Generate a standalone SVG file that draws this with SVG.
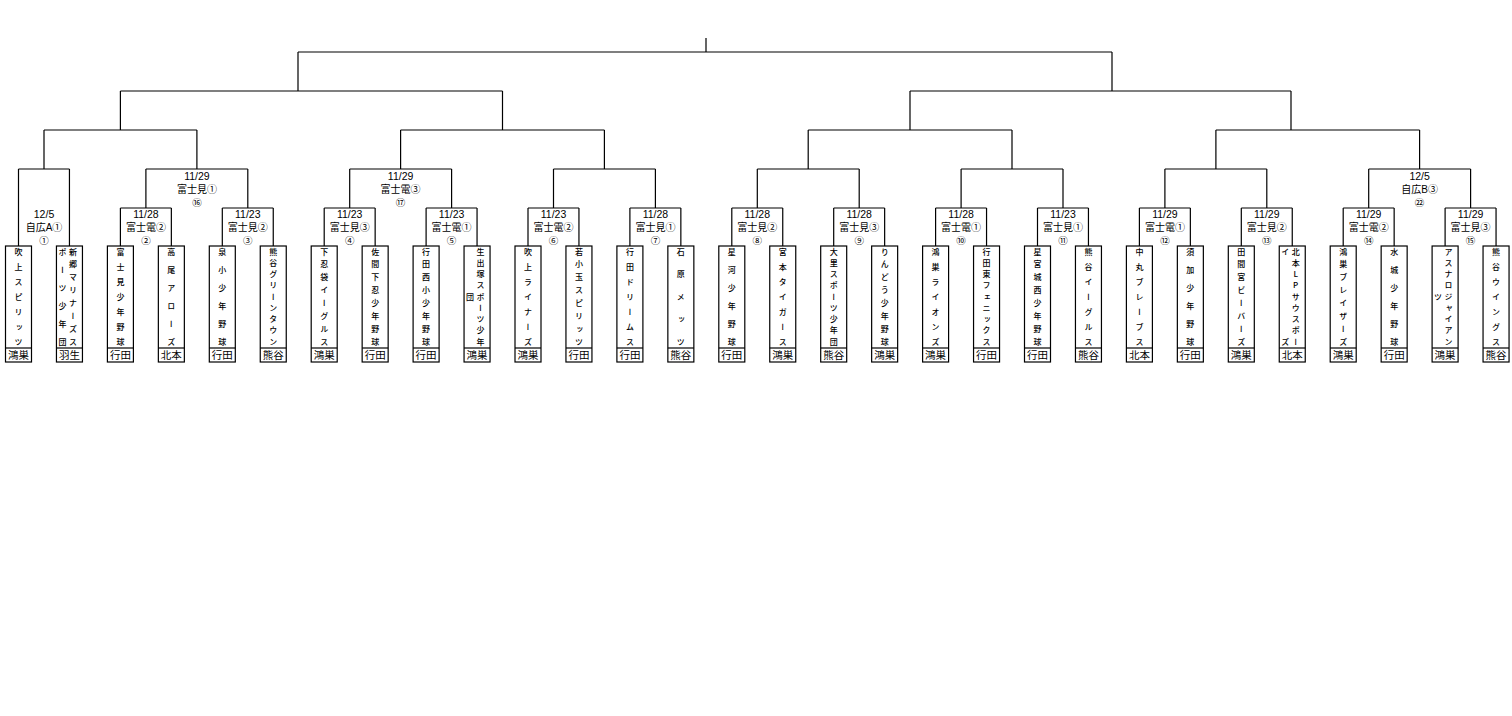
<svg xmlns="http://www.w3.org/2000/svg" width="1512" height="716" viewBox="0 0 1512 716">
<style>
text{font-family:"Liberation Sans","Noto Sans CJK JP",sans-serif;fill:#000}
.d{font-size:10.5px;text-anchor:middle}
.p{font-size:10px;text-anchor:middle}
.n{font-family:"Noto Sans CJK JP",sans-serif;font-size:9.5px;text-anchor:middle}
.r{font-size:10.5px;text-anchor:middle}
.v{font-family:"Noto Sans CJK JP",sans-serif;font-size:8px;font-weight:500;writing-mode:vertical-rl;text-orientation:upright;text-anchor:middle;transform:translateY(1.5px)}
.box{fill:#fff;stroke:#000;stroke-width:1.2}
.ln{fill:none;stroke:#000;stroke-width:1.2}
</style>
<rect width="1512" height="716" fill="#fff"/>
<g id="connectors" class="ln">
<path d="M706 38V52M298 52H1112M298 52V91M1112 52V91"/>
<path d="M120.4 91H502.5M910 91H1291M120.4 91V130M502.5 91V130M910 91V130M1291 91V130"/>
<path d="M44 130H196.9M400.6 130H604.4M808.2 130H1012M1215.9 130H1419.6M44 130V169M196.9 130V169M400.6 130V169M604.4 130V169M808.2 130V169M1012 130V169M1215.9 130V169M1419.6 130V169"/>
<path d="M18.5 169H69.45M145.9 169H247.8M349.7 169H451.6M553.5 169H655.4M757.3 169H859.2M961.1 169H1063M1164.9 169H1266.8M1368.7 169H1470.6"/>
<path d="M18.5 169V246M69.45 169V246M145.9 169V208M247.8 169V208M349.7 169V208M451.6 169V208M553.5 169V208M655.4 169V208M757.3 169V208M859.2 169V208M961.1 169V208M1063 169V208M1164.9 169V208M1266.8 169V208M1368.7 169V208M1470.6 169V208"/>
<path d="M120.4 208H171.35M222.3 208H273.25M324.2 208H375.15M426.1 208H477.05M528 208H578.95M629.9 208H680.85M731.8 208H782.75M833.7 208H884.65M935.6 208H986.55M1037.5 208H1088.45M1139.4 208H1190.35M1241.3 208H1292.25M1343.2 208H1394.15M1445.1 208H1496.05"/>
<path d="M120.4 208V246M171.35 208V246M222.3 208V246M273.25 208V246M324.2 208V246M375.15 208V246M426.1 208V246M477.05 208V246M528 208V246M578.95 208V246M629.9 208V246M680.85 208V246M731.8 208V246M782.75 208V246M833.7 208V246M884.65 208V246M935.6 208V246M986.55 208V246M1037.5 208V246M1088.45 208V246M1139.4 208V246M1190.35 208V246M1241.3 208V246M1292.25 208V246M1343.2 208V246M1394.15 208V246M1445.1 208V246M1496.05 208V246"/>
</g>
<g id="match-labels">
<g id="m1"><text class="d" x="44" y="217.5">12/5</text><text class="p" x="44" y="230.8">自広A①</text><text class="n" x="44" y="243.5">①</text></g>
<g id="m2"><text class="d" x="145.9" y="217.5">11/28</text><text class="p" x="145.9" y="230.8">富士電②</text><text class="n" x="145.9" y="243.5">②</text></g>
<g id="m3"><text class="d" x="247.8" y="217.5">11/23</text><text class="p" x="247.8" y="230.8">富士見②</text><text class="n" x="247.8" y="243.5">③</text></g>
<g id="m4"><text class="d" x="349.7" y="217.5">11/23</text><text class="p" x="349.7" y="230.8">富士見③</text><text class="n" x="349.7" y="243.5">④</text></g>
<g id="m5"><text class="d" x="451.6" y="217.5">11/23</text><text class="p" x="451.6" y="230.8">富士電①</text><text class="n" x="451.6" y="243.5">⑤</text></g>
<g id="m6"><text class="d" x="553.5" y="217.5">11/23</text><text class="p" x="553.5" y="230.8">富士電②</text><text class="n" x="553.5" y="243.5">⑥</text></g>
<g id="m7"><text class="d" x="655.4" y="217.5">11/28</text><text class="p" x="655.4" y="230.8">富士見①</text><text class="n" x="655.4" y="243.5">⑦</text></g>
<g id="m8"><text class="d" x="757.3" y="217.5">11/28</text><text class="p" x="757.3" y="230.8">富士見②</text><text class="n" x="757.3" y="243.5">⑧</text></g>
<g id="m9"><text class="d" x="859.2" y="217.5">11/28</text><text class="p" x="859.2" y="230.8">富士見③</text><text class="n" x="859.2" y="243.5">⑨</text></g>
<g id="m10"><text class="d" x="961.1" y="217.5">11/28</text><text class="p" x="961.1" y="230.8">富士電①</text><text class="n" x="961.1" y="243.5">⑩</text></g>
<g id="m11"><text class="d" x="1063" y="217.5">11/23</text><text class="p" x="1063" y="230.8">富士見①</text><text class="n" x="1063" y="243.5">⑪</text></g>
<g id="m12"><text class="d" x="1164.9" y="217.5">11/29</text><text class="p" x="1164.9" y="230.8">富士電①</text><text class="n" x="1164.9" y="243.5">⑫</text></g>
<g id="m13"><text class="d" x="1266.8" y="217.5">11/29</text><text class="p" x="1266.8" y="230.8">富士見②</text><text class="n" x="1266.8" y="243.5">⑬</text></g>
<g id="m14"><text class="d" x="1368.7" y="217.5">11/29</text><text class="p" x="1368.7" y="230.8">富士電②</text><text class="n" x="1368.7" y="243.5">⑭</text></g>
<g id="m15"><text class="d" x="1470.6" y="217.5">11/29</text><text class="p" x="1470.6" y="230.8">富士見③</text><text class="n" x="1470.6" y="243.5">⑮</text></g>
<g id="m16"><text class="d" x="196.9" y="179.8">11/29</text><text class="p" x="196.9" y="192.8">富士見①</text><text class="n" x="196.9" y="205.5">⑯</text></g>
<g id="m17"><text class="d" x="400.6" y="179.8">11/29</text><text class="p" x="400.6" y="192.8">富士電③</text><text class="n" x="400.6" y="205.5">⑰</text></g>
<g id="m22"><text class="d" x="1419.6" y="179.8">12/5</text><text class="p" x="1419.6" y="192.8">自広B③</text><text class="n" x="1419.6" y="205.5">㉒</text></g>
</g>
<g id="t1"><rect class="box" x="5.5" y="246" width="26" height="116"/><path class="ln" d="M5.5 348H31.5"/><text class="v" x="18.5" y="250 265 280 295 310 325 340">吹上スピリッツ</text><text class="r" x="18.5" y="358.8">鴻巣</text></g>
<g id="t2"><rect class="box" x="56.45" y="246" width="26" height="116"/><path class="ln" d="M56.45 348H82.45"/><text class="v" x="73" y="250 262.86 275.71 288.57 301.43 314.29 327.14 340">新郷マリナーズス</text><text class="v" x="62.4" y="250 268 286 304 322 340">ポーツ少年団</text><text class="r" x="69.45" y="358.8">羽生</text></g>
<g id="t3"><rect class="box" x="107.4" y="246" width="26" height="116"/><path class="ln" d="M107.4 348H133.4"/><text class="v" x="120.4" y="250 265 280 295 310 325 340">富士見少年野球</text><text class="r" x="120.4" y="358.8">行田</text></g>
<g id="t4"><rect class="box" x="158.35" y="246" width="26" height="116"/><path class="ln" d="M158.35 348H184.35"/><text class="v" x="171.35" y="250 268 286 304 322 340">高尾アローズ</text><text class="r" x="171.35" y="358.8">北本</text></g>
<g id="t5"><rect class="box" x="209.3" y="246" width="26" height="116"/><path class="ln" d="M209.3 348H235.3"/><text class="v" x="222.3" y="250 268 286 304 322 340">泉小少年野球</text><text class="r" x="222.3" y="358.8">行田</text></g>
<g id="t6"><rect class="box" x="260.25" y="246" width="26" height="116"/><path class="ln" d="M260.25 348H286.25"/><text class="v" x="273.25" y="250 261.25 272.5 283.75 295 306.25 317.5 328.75 340">熊谷グリーンタウン</text><text class="r" x="273.25" y="358.8">熊谷</text></g>
<g id="t7"><rect class="box" x="311.2" y="246" width="26" height="116"/><path class="ln" d="M311.2 348H337.2"/><text class="v" x="324.2" y="250 262.86 275.71 288.57 301.43 314.29 327.14 340">下忍袋イーグルス</text><text class="r" x="324.2" y="358.8">鴻巣</text></g>
<g id="t8"><rect class="box" x="362.15" y="246" width="26" height="116"/><path class="ln" d="M362.15 348H388.15"/><text class="v" x="375.15" y="250 262.86 275.71 288.57 301.43 314.29 327.14 340">佐間下忍少年野球</text><text class="r" x="375.15" y="358.8">行田</text></g>
<g id="t9"><rect class="box" x="413.1" y="246" width="26" height="116"/><path class="ln" d="M413.1 348H439.1"/><text class="v" x="426.1" y="250 262.86 275.71 288.57 301.43 314.29 327.14 340">行田西小少年野球</text><text class="r" x="426.1" y="358.8">行田</text></g>
<g id="t10"><rect class="box" x="464.05" y="246" width="26" height="116"/><path class="ln" d="M464.05 348H490.05"/><text class="v" x="480.5" y="250 261.25 272.5 283.75 295 306.25 317.5 328.75 340">生出塚スポーツ少年</text><text class="v" x="470" y="295">団</text><text class="r" x="477.05" y="358.8">鴻巣</text></g>
<g id="t11"><rect class="box" x="515" y="246" width="26" height="116"/><path class="ln" d="M515 348H541"/><text class="v" x="528" y="250 265 280 295 310 325 340">吹上ライナーズ</text><text class="r" x="528" y="358.8">鴻巣</text></g>
<g id="t12"><rect class="box" x="565.95" y="246" width="26" height="116"/><path class="ln" d="M565.95 348H591.95"/><text class="v" x="578.95" y="250 262.86 275.71 288.57 301.43 314.29 327.14 340">若小玉スピリッツ</text><text class="r" x="578.95" y="358.8">行田</text></g>
<g id="t13"><rect class="box" x="616.9" y="246" width="26" height="116"/><path class="ln" d="M616.9 348H642.9"/><text class="v" x="629.9" y="250 265 280 295 310 325 340">行田ドリームス</text><text class="r" x="629.9" y="358.8">行田</text></g>
<g id="t14"><rect class="box" x="667.85" y="246" width="26" height="116"/><path class="ln" d="M667.85 348H693.85"/><text class="v" x="680.85" y="250 272.5 295 317.5 340">石原メッツ</text><text class="r" x="680.85" y="358.8">熊谷</text></g>
<g id="t15"><rect class="box" x="718.8" y="246" width="26" height="116"/><path class="ln" d="M718.8 348H744.8"/><text class="v" x="731.8" y="250 268 286 304 322 340">星河少年野球</text><text class="r" x="731.8" y="358.8">行田</text></g>
<g id="t16"><rect class="box" x="769.75" y="246" width="26" height="116"/><path class="ln" d="M769.75 348H795.75"/><text class="v" x="782.75" y="250 265 280 295 310 325 340">宮本タイガース</text><text class="r" x="782.75" y="358.8">鴻巣</text></g>
<g id="t17"><rect class="box" x="820.7" y="246" width="26" height="116"/><path class="ln" d="M820.7 348H846.7"/><text class="v" x="833.7" y="250 261.25 272.5 283.75 295 306.25 317.5 328.75 340">大里スポーツ少年団</text><text class="r" x="833.7" y="358.8">熊谷</text></g>
<g id="t18"><rect class="box" x="871.65" y="246" width="26" height="116"/><path class="ln" d="M871.65 348H897.65"/><text class="v" x="884.65" y="250 262.86 275.71 288.57 301.43 314.29 327.14 340">りんどう少年野球</text><text class="r" x="884.65" y="358.8">鴻巣</text></g>
<g id="t19"><rect class="box" x="922.6" y="246" width="26" height="116"/><path class="ln" d="M922.6 348H948.6"/><text class="v" x="935.6" y="250 265 280 295 310 325 340">鴻巣ライオンズ</text><text class="r" x="935.6" y="358.8">鴻巣</text></g>
<g id="t20"><rect class="box" x="973.55" y="246" width="26" height="116"/><path class="ln" d="M973.55 348H999.55"/><text class="v" x="986.55" y="250 261.25 272.5 283.75 295 306.25 317.5 328.75 340">行田東フェニックス</text><text class="r" x="986.55" y="358.8">行田</text></g>
<g id="t21"><rect class="box" x="1024.5" y="246" width="26" height="116"/><path class="ln" d="M1024.5 348H1050.5"/><text class="v" x="1037.5" y="250 262.86 275.71 288.57 301.43 314.29 327.14 340">星宮城西少年野球</text><text class="r" x="1037.5" y="358.8">行田</text></g>
<g id="t22"><rect class="box" x="1075.45" y="246" width="26" height="116"/><path class="ln" d="M1075.45 348H1101.45"/><text class="v" x="1088.45" y="250 265 280 295 310 325 340">熊谷イーグルス</text><text class="r" x="1088.45" y="358.8">熊谷</text></g>
<g id="t23"><rect class="box" x="1126.4" y="246" width="26" height="116"/><path class="ln" d="M1126.4 348H1152.4"/><text class="v" x="1139.4" y="250 265 280 295 310 325 340">中丸ブレーブス</text><text class="r" x="1139.4" y="358.8">北本</text></g>
<g id="t24"><rect class="box" x="1177.35" y="246" width="26" height="116"/><path class="ln" d="M1177.35 348H1203.35"/><text class="v" x="1190.35" y="250 268 286 304 322 340">須加少年野球</text><text class="r" x="1190.35" y="358.8">行田</text></g>
<g id="t25"><rect class="box" x="1228.3" y="246" width="26" height="116"/><path class="ln" d="M1228.3 348H1254.3"/><text class="v" x="1241.3" y="250 262.86 275.71 288.57 301.43 314.29 327.14 340">田間宮ビーバーズ</text><text class="r" x="1241.3" y="358.8">鴻巣</text></g>
<g id="t26"><rect class="box" x="1279.25" y="246" width="26" height="116"/><path class="ln" d="M1279.25 348H1305.25"/><text class="v" x="1295.7" y="250 261.25 272.5 283.75 295 306.25 317.5 328.75 340">北本LPサウスボー</text><text class="v" x="1285.3" y="250 340">イズ</text><text class="r" x="1292.25" y="358.8">北本</text></g>
<g id="t27"><rect class="box" x="1330.2" y="246" width="26" height="116"/><path class="ln" d="M1330.2 348H1356.2"/><text class="v" x="1343.2" y="250 262.86 275.71 288.57 301.43 314.29 327.14 340">鴻巣ブレイザーズ</text><text class="r" x="1343.2" y="358.8">鴻巣</text></g>
<g id="t28"><rect class="box" x="1381.15" y="246" width="26" height="116"/><path class="ln" d="M1381.15 348H1407.15"/><text class="v" x="1394.15" y="250 268 286 304 322 340">水城少年野球</text><text class="r" x="1394.15" y="358.8">行田</text></g>
<g id="t29"><rect class="box" x="1432.1" y="246" width="26" height="116"/><path class="ln" d="M1432.1 348H1458.1"/><text class="v" x="1448.6" y="250 261.25 272.5 283.75 295 306.25 317.5 328.75 340">アスナロジャイアン</text><text class="v" x="1438.1" y="295">ツ</text><text class="r" x="1445.1" y="358.8">鴻巣</text></g>
<g id="t30"><rect class="box" x="1483.05" y="246" width="26" height="116"/><path class="ln" d="M1483.05 348H1509.05"/><text class="v" x="1496.05" y="250 265 280 295 310 325 340">熊谷ウイングス</text><text class="r" x="1496.05" y="358.8">熊谷</text></g>
</svg>
